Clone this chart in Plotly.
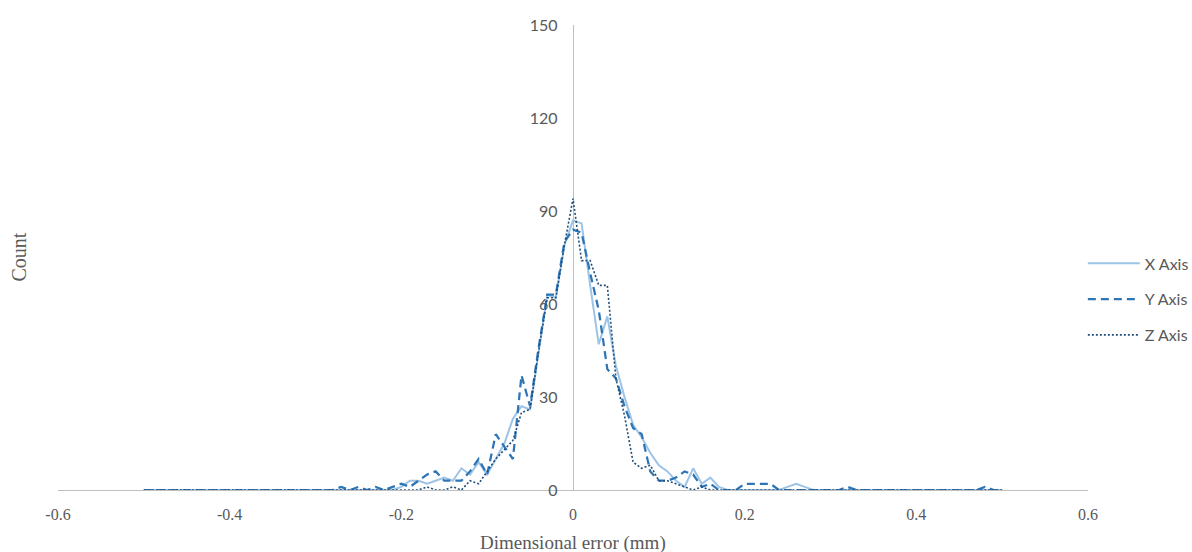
import plotly.graph_objects as go

# Bin centres (mm), step 0.01 from -0.5 to 0.5
error_bins = [
    -0.50, -0.49, -0.48, -0.47, -0.46, -0.45, -0.44, -0.43, -0.42, -0.41,
    -0.40, -0.39, -0.38, -0.37, -0.36, -0.35, -0.34, -0.33, -0.32, -0.31,
    -0.30, -0.29, -0.28, -0.27, -0.26, -0.25, -0.24, -0.23, -0.22, -0.21,
    -0.20, -0.19, -0.18, -0.17, -0.16, -0.15, -0.14, -0.13, -0.12, -0.11,
    -0.10, -0.09, -0.08, -0.07, -0.06, -0.05, -0.04, -0.03, -0.02, -0.01,
    0.00, 0.01, 0.02, 0.03, 0.04, 0.05, 0.06, 0.07, 0.08, 0.09,
    0.10, 0.11, 0.12, 0.13, 0.14, 0.15, 0.16, 0.17, 0.18, 0.19,
    0.20, 0.21, 0.22, 0.23, 0.24, 0.25, 0.26, 0.27, 0.28, 0.29,
    0.30, 0.31, 0.32, 0.33, 0.34, 0.35, 0.36, 0.37, 0.38, 0.39,
    0.40, 0.41, 0.42, 0.43, 0.44, 0.45, 0.46, 0.47, 0.48, 0.49,
    0.50,
]

x_axis_counts = [
    0, 0, 0, 0, 0, 0, 0, 0, 0, 0,
    0, 0, 0, 0, 0, 0, 0, 0, 0, 0,
    0, 0, 0, 0, 0, 0, 0, 0, 0, 0,
    1, 3, 3, 2, 3, 4, 3, 7, 5, 9,
    5, 10, 15, 23, 27, 26, 45, 63, 62, 79,
    87, 86, 66, 47, 56, 40, 30, 21, 17, 12,
    8, 6, 3, 1, 7, 2, 4, 1, 0, 0,
    0, 0, 0, 0, 0, 1, 2, 1, 0, 0,
    0, 0, 0, 0, 0, 0, 0, 0, 0, 0,
    0, 0, 0, 0, 0, 0, 0, 0, 0, 0,
    0,
]

y_axis_counts = [
    0, 0, 0, 0, 0, 0, 0, 0, 0, 0,
    0, 0, 0, 0, 0, 0, 0, 0, 0, 0,
    0, 0, 0, 1, 0, 1, 0, 1, 0, 1,
    2, 1, 3, 5, 6, 3, 3, 3, 6, 10,
    5, 18, 14, 10, 37, 27, 46, 63, 63, 80,
    84, 83, 70, 58, 39, 36, 27, 20, 18, 6,
    3, 3, 4, 6, 5, 1, 2, 0, 0, 0,
    2, 2, 2, 2, 0, 0, 0, 0, 0, 0,
    0, 0, 1, 0, 0, 0, 0, 0, 0, 0,
    0, 0, 0, 0, 0, 0, 0, 0, 1, 0,
    0,
]

z_axis_counts = [
    0, 0, 0, 0, 0, 0, 0, 0, 0, 0,
    0, 0, 0, 0, 0, 0, 0, 0, 0, 0,
    0, 0, 0, 0, 0, 0, 0, 0, 0, 0,
    0, 0, 0, 1, 0, 0, 1, 0, 3, 2,
    6, 10, 13, 16, 25, 26, 45, 62, 62, 79,
    94, 74, 74, 66, 66, 36, 24, 9, 7, 8,
    3, 3, 2, 1, 0, 1, 0, 0, 0, 0,
    0, 0, 0, 0, 0, 0, 0, 0, 0, 0,
    0, 0, 0, 0, 0, 0, 0, 0, 0, 0,
    0, 0, 0, 0, 0, 0, 0, 0, 0, 0,
    0,
]

x_tick_vals = [-0.6, -0.4, -0.2, 0, 0.2, 0.4, 0.6]
x_tick_text = ["-0.6", "-0.4", "-0.2", "0", "0.2", "0.4", "0.6"]
y_tick_vals = [0, 30, 60, 90, 120, 150]

series_names = ["X Axis", "Y Axis", "Z Axis"]

fig = go.Figure()
fig.add_trace(go.Scatter(x=error_bins, y=x_axis_counts, mode="lines", name=series_names[0],
                         legendgroup="x", line=dict(color="#9DC3E6", width=2)))
fig.add_trace(go.Scatter(x=error_bins, y=y_axis_counts, mode="lines", name=series_names[1],
                         legendgroup="y", line=dict(color="#2E75B6", width=2.25, dash="8px,5px")))
fig.add_trace(go.Scatter(x=error_bins, y=z_axis_counts, mode="lines", name=series_names[2],
                         legendgroup="z", line=dict(color="#1F4E79", width=1.6, dash="2px,2px")))

grey = "#595959"
fig.update_layout(
    width=1192, height=552,
    margin=dict(l=58, r=104, t=25, b=62, autoexpand=False),
    paper_bgcolor="white", plot_bgcolor="white",
    showlegend=True,
    legend=dict(x=0.995, y=0.41, xanchor="left", yanchor="middle",
                font=dict(family="Lato, Open Sans, sans-serif", size=16, color=grey),
                tracegroupgap=12, itemwidth=52, bgcolor="rgba(0,0,0,0)"),
    xaxis=dict(range=[-0.6, 0.6], tickvals=x_tick_vals, ticktext=x_tick_text,
               showgrid=False, zeroline=False, showline=True, linecolor="#BFBFBF", linewidth=1.3,
               ticks="", ticklabelstandoff=10, layer="below traces",
               tickfont=dict(family="Liberation Serif, Times New Roman, serif", size=16, color=grey)),
    yaxis=dict(range=[0, 150], tickvals=y_tick_vals, anchor="free", position=0.5,
               showgrid=False, zeroline=False, showline=True, linecolor="#BFBFBF", linewidth=1.3,
               ticks="", ticklabelstandoff=12, layer="below traces",
               tickfont=dict(family="Lato, Open Sans, sans-serif", size=16, color=grey)),
    annotations=[
        dict(text="Count", xref="paper", yref="paper", x=-0.0388, y=0.5,
             xanchor="center", yanchor="middle", textangle=-90, showarrow=False,
             font=dict(family="Liberation Serif, Times New Roman, serif", size=20, color=grey)),
        dict(text="Dimensional error (mm)", xref="paper", yref="paper", x=0.5, y=-0.114,
             xanchor="center", yanchor="middle", showarrow=False,
             font=dict(family="Liberation Serif, Times New Roman, serif", size=19, color=grey)),
    ],
)

fig.write_html("out.html")
